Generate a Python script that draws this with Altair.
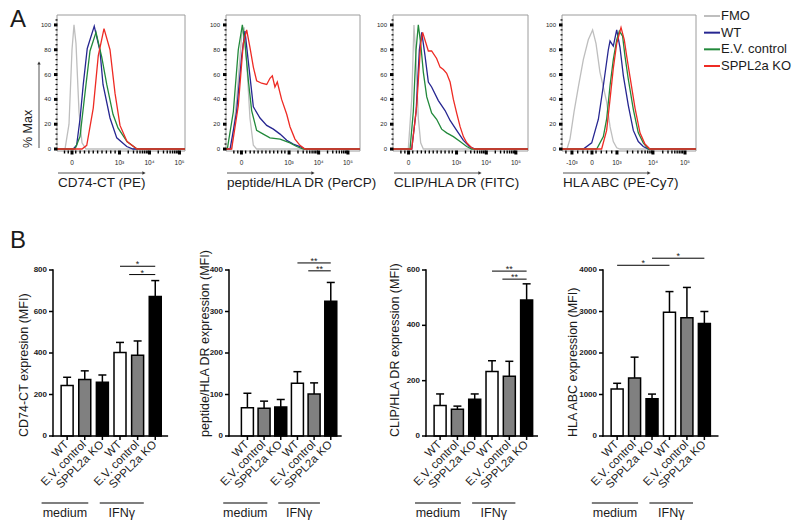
import altair as alt
import pandas as pd

FONT = "Liberation Sans"
INK = "#1b1b1b"

# ---------------- Panel A: flow cytometry histograms ----------------
SERIES = ["FMO", "WT", "E.V. control", "SPPL2a KO"]
SERIES_COLORS = ["#bebebe", "#262691", "#22893b", "#ee2b24"]

# x = display channel (0-1024), y = % of max
H1_FMO_X = [0, 64, 96, 120, 136, 152, 176, 200, 232, 1024]
H1_FMO_Y = [0, 0, 20, 80, 100, 85, 30, 5, 0, 0]
H1_WT_X = [0, 130, 157, 184, 210, 242, 298, 344, 368, 424, 478, 558, 608, 1024]
H1_WT_Y = [0, 0, 3, 24, 52, 81, 99, 79, 52, 25, 9, 2, 0, 0]
H1_EV_X = [0, 144, 184, 232, 264, 312, 358, 398, 448, 488, 560, 640, 1024]
H1_EV_Y = [0, 0, 10, 52, 79, 94, 74, 52, 28, 17, 6, 0, 0]
H1_KO_X = [0, 200, 238, 290, 330, 376, 424, 464, 504, 560, 640, 1024]
H1_KO_Y = [0, 0, 3, 33, 75, 97, 80, 45, 19, 6, 0, 0]

H2_FMO_X = [0, 43, 82, 120, 138, 158, 183, 209, 234, 1024]
H2_FMO_Y = [0, 0, 40, 92, 98, 70, 25, 3, 0, 0]
H2_WT_X = [0, 31, 81, 120, 145, 171, 209, 260, 311, 362, 413, 464, 514, 565, 604, 1024]
H2_WT_Y = [0, 0, 30, 75, 95, 70, 34, 25, 19, 16, 12, 7, 4, 2, 0, 0]
H2_EV_X = [0, 10, 56, 94, 125, 145, 171, 196, 234, 285, 336, 413, 489, 540, 591, 1024]
H2_EV_Y = [0, 0, 30, 80, 100, 85, 55, 31, 15, 12, 9, 8, 5, 2, 0, 0]
H2_KO_X = [0, 43, 94, 132, 158, 183, 209, 234, 272, 311, 336, 354, 374, 392, 425, 464, 489, 527, 565, 604, 1024]
H2_KO_Y = [0, 0, 35, 85, 96, 82, 66, 55, 53, 52, 57, 59, 50, 54, 40, 28, 18, 8, 3, 0, 0]

H3_FMO_X = [0, 116, 142, 159, 175, 192, 210, 230, 1024]
H3_FMO_Y = [0, 0, 40, 100, 70, 25, 5, 0, 0]
H3_WT_X = [0, 142, 175, 200, 218, 243, 268, 293, 344, 395, 433, 483, 534, 579, 622, 1024]
H3_WT_Y = [0, 0, 30, 80, 94, 75, 54, 50, 39, 31, 23, 15, 7, 2, 0, 0]
H3_EV_X = [0, 129, 154, 175, 192, 210, 230, 256, 293, 331, 369, 407, 458, 509, 559, 597, 1024]
H3_EV_Y = [0, 0, 30, 80, 100, 85, 62, 42, 29, 24, 16, 13, 10, 6, 2, 0, 0]
H3_KO_X = [0, 142, 180, 210, 225, 268, 293, 331, 357, 382, 407, 433, 458, 483, 509, 534, 559, 597, 622, 1024]
H3_KO_Y = [0, 0, 35, 85, 94, 79, 79, 73, 66, 64, 61, 54, 40, 29, 18, 10, 5, 1, 0, 0]

H4_FMO_X = [0, 38, 61, 92, 125, 163, 201, 234, 260, 290, 316, 341, 367, 392, 418, 443, 1024]
H4_FMO_Y = [0, 0, 8, 30, 50, 72, 88, 96, 85, 62, 50, 38, 18, 6, 1, 0, 0]
H4_WT_X = [0, 163, 227, 278, 316, 354, 367, 392, 418, 443, 469, 507, 545, 583, 621, 660, 1024]
H4_WT_Y = [0, 0, 5, 24, 51, 80, 87, 83, 96, 82, 59, 35, 15, 6, 2, 0, 0]
H4_EV_X = [0, 265, 316, 341, 367, 392, 418, 438, 463, 481, 507, 545, 583, 621, 660, 1024]
H4_EV_Y = [0, 0, 10, 24, 51, 72, 88, 95, 91, 75, 56, 32, 13, 5, 0, 0]
H4_KO_X = [0, 303, 341, 367, 392, 418, 451, 476, 494, 520, 558, 596, 634, 672, 1024]
H4_KO_Y = [0, 0, 15, 40, 65, 85, 98, 88, 75, 58, 33, 13, 4, 0, 0]

H_TITLES = ["CD74-CT (PE)", "peptide/HLA DR (PerCP)", "CLIP/HLA DR (FITC)", "HLA ABC (PE-Cy7)"]

# axis tick positions / labels (display channel)
H1_MAJOR = [120, 500, 740, 980]
H1_MINOR = [60, 90, 150, 185, 220, 255, 290, 325, 360, 395, 430, 465,
            570, 612, 641, 664, 683, 699, 714, 727, 810, 852, 882, 905, 924, 940, 954, 967]
H23_MAJOR = [118, 482, 708, 932]
H23_MINOR = [60, 90, 150, 185, 215, 245, 275, 305, 335, 365, 395, 425, 450,
             550, 590, 618, 640, 658, 673, 686, 698, 776, 816, 844, 866, 884, 899, 912, 923]
H_MAJOR_LABELS = ["0", "10³", "10⁴", "10⁵"]
H4_MAJOR = [76, 229, 420, 695, 940]
H4_MAJOR_LABELS = ["-10³", "0", "10³", "10⁴", "10⁵"]
H4_MINOR = [30, 120, 160, 195, 260, 300, 340, 380, 500, 540, 580, 610, 635, 655, 672, 685,
            770, 810, 840, 862, 880, 896, 910, 922]
PCT_MAJOR = [0, 20, 40, 60, 80, 100]
PCT_MINOR = [4, 8, 12, 16, 24, 28, 32, 36, 44, 48, 52, 56, 64, 68, 72, 76, 84, 88, 92, 96, 104]
LEGEND_ROW = [0, 1, 2, 3]

# ---------------- Panel B: MFI bar charts ----------------
CELLS = ["WT", "E.V. control", "SPPL2a KO", "WT", "E.V. control", "SPPL2a KO"]
CELL_TYPES = ["WT", "E.V. control", "SPPL2a KO"]
CELL_FILLS = ["white", "#808080", "black"]
GROUPS = ["medium", "IFNγ"]
GROUP_START = [-1.45, 1.85]
GROUP_END = [1.2, 4.35]

B_TITLES = ["CD74-CT expresion (MFI)", "peptide/HLA DR expression (MFI)",
            "CLIP/HLA DR expression (MFI)", "HLA ABC expression (MFI)"]
C1_TICKS = [0, 200, 400, 600, 800]
C2_TICKS = [0, 100, 200, 300, 400]
C3_TICKS = [0, 200, 400, 600]
C4_TICKS = [0, 1000, 2000, 3000, 4000]

C1_MEAN = [243, 272, 259, 402, 389, 672]
C1_ERR = [40, 42, 35, 49, 69, 77]
C2_MEAN = [68, 67, 70, 127, 101, 325]
C2_ERR = [35, 17, 18, 28, 27, 45]
C3_MEAN = [110, 97, 133, 233, 216, 492]
C3_ERR = [42, 11, 19, 39, 54, 58]
C4_MEAN = [1130, 1400, 900, 2980, 2850, 2710]
C4_ERR = [140, 500, 110, 500, 730, 290]

C1_SIG_FROM, C1_SIG_TO, C1_SIG_Y, C1_SIG_TXT = [3, 3.52], [5, 5], [818, 778], ["*", "*"]
C2_SIG_FROM, C2_SIG_TO, C2_SIG_Y, C2_SIG_TXT = [3, 3.65], [5, 5], [417, 398], ["**", "**"]
C3_SIG_FROM, C3_SIG_TO, C3_SIG_Y, C3_SIG_TXT = [3, 3.6], [5, 5], [596, 567], ["**", "**"]
C4_SIG_FROM, C4_SIG_TO, C4_SIG_Y, C4_SIG_TXT = [0, 2], [3, 5], [4114, 4284], ["*", "*"]

# ---------------- layout (page pixels; the view starts at the 8px page margin) ----------------
VIEW_W, VIEW_H, PAGE = 784, 512, 8
H_LEFT = [57, 226, 393, 562]
H_RIGHT = [185, 360, 528, 696]
H_TOP, H_BOTTOM = 15, 151
B_AXIS = [53, 229, 426, 603]
B_TOP, B_BOTTOM = 270, 436
B_LAYOUT = [(19.3, 4, 2.6), (18.3, 8.7, 0.5), (19.0, 4, 1), (19.1, 4, 4)]
B_TITLE_DIST = [29, 24, 31, 30]
BAR_W = 12

ONE = pd.DataFrame({"k": [0]})
COLOR_SCALE = alt.Scale(domain=SERIES, range=SERIES_COLORS)


def rule(df, **kw):
    kw.setdefault("color", "black")
    return alt.Chart(df).mark_rule(**kw)


def text(df, **kw):
    kw.setdefault("color", INK)
    return alt.Chart(df).mark_text(**kw)


def histogram(i, curves, majors, labels, minors):
    first = i == 0
    x0, x1 = H_LEFT[i] - PAGE, H_RIGHT[i] - PAGE
    yb, yt = H_BOTTOM - PAGE, H_TOP - PAGE
    xs = alt.Scale(domain=[0, 1024], range=[x0, x1], nice=False, zero=False)
    ys = alt.Scale(domain=[-1.6, 108], range=[yb, yt], nice=False, zero=False)
    X = lambda f: alt.X(f, scale=xs, axis=None)
    Y = lambda f: alt.Y(f, scale=ys, axis=None)
    rows = []
    for name, (xv, yv) in zip(SERIES, curves):
        for x, y in zip(xv, yv):
            rows.append({"series": name, "ch": x, "pct": y})
    df = pd.DataFrame(rows)
    frame_df = pd.DataFrame({"a": [0], "b": [1024], "c": [-1.6], "d": [108]})
    frame = alt.Chart(frame_df).mark_rect(fillOpacity=0, stroke="#9c9c9c", strokeWidth=1).encode(
        x=X("a:Q"), x2="b:Q", y=Y("c:Q"), y2="d:Q")
    lines = alt.Chart(df).mark_line(strokeWidth=1.3).encode(
        x=X("ch:Q"), y=Y("pct:Q"),
        color=alt.Color("series:N", scale=COLOR_SCALE, sort=SERIES, legend=None))
    # axes drawn through the panel scales
    ymaj = pd.DataFrame({"v": PCT_MAJOR, "lab": [str(v) for v in PCT_MAJOR]})
    ymin = pd.DataFrame({"v": PCT_MINOR})
    xmaj = pd.DataFrame({"v": majors, "lab": labels})
    xmin = pd.DataFrame({"v": minors})
    y_minor = rule(ymin, strokeWidth=1.2).encode(x=alt.value(x0 - 1.5), x2=alt.value(x0 + 0.5), y=Y("v:Q"))
    y_major = rule(ymaj, strokeWidth=3).encode(x=alt.value(x0 - 3), x2=alt.value(x0 + 0.5), y=Y("v:Q"))
    y_lab = text(ymaj, align="right", baseline="middle", fontSize=6).encode(
        x=alt.value(x0 - 6), y=Y("v:Q"), text="lab:N")
    x_minor = rule(xmin, strokeWidth=1.4).encode(x=X("v:Q"), y=alt.value(yb - 0.5), y2=alt.value(yb + 2.5))
    x_major = rule(xmaj, strokeWidth=3).encode(x=X("v:Q"), y=alt.value(yb - 0.5), y2=alt.value(yb + 3.5))
    x_lab = text(xmaj, align="center", baseline="middle", fontSize=6.5).encode(
        x=X("v:Q"), y=alt.value(yb + 12), text="lab:N")
    x_title = text(ONE, text=H_TITLES[i], align="left", baseline="middle", fontSize=13.5).encode(
        x=alt.value(x0 + 1), y=alt.value(yb + 32))
    ay = yb + 22
    arrow = rule(ONE, strokeWidth=1, color="#555").encode(
        x=alt.value(x0 + 1), x2=alt.value(x0 + 86), y=alt.value(ay))
    head = alt.Chart(ONE).mark_point(shape="triangle-right", filled=True, size=14,
                                     color="#333", opacity=1).encode(
        x=alt.value(x0 + 87), y=alt.value(ay))
    layers = [frame, lines, y_minor, y_major, y_lab, x_minor, x_major, x_lab, x_title, arrow, head]
    if first:
        vx = x0 - 18
        varrow = rule(ONE, strokeWidth=1, color="#555").encode(
            x=alt.value(vx), y=alt.value(yb - 3), y2=alt.value(yt + 49))
        vhead = alt.Chart(ONE).mark_point(shape="triangle-up", filled=True, size=12,
                                          color="#333", opacity=1).encode(
            x=alt.value(vx), y=alt.value(yt + 48))
        y_title = text(ONE, text="% Max", angle=270, align="left", baseline="middle",
                       fontSize=12.5).encode(x=alt.value(x0 - 29), y=alt.value(yb - 3))
        letter = text(ONE, text="A", fontSize=24, baseline="middle", align="left").encode(
            x=alt.value(2), y=alt.value(12))
        layers += [varrow, vhead, y_title, letter]
    return alt.layer(*layers)


def legend_panel():
    df = pd.DataFrame({"series": SERIES, "row": LEGEND_ROW})
    y = alt.Y("row:Q", scale=alt.Scale(domain=[0, 3], range=[16 - PAGE, 66 - PAGE],
                                       nice=False, zero=False), axis=None)
    color = alt.Color("series:N", scale=COLOR_SCALE, sort=SERIES, legend=None)
    sw = alt.Chart(df).mark_rule(strokeWidth=2).encode(
        x=alt.value(704 - PAGE), x2=alt.value(720 - PAGE), y=y, color=color)
    tx = text(df, align="left", baseline="middle", fontSize=13).encode(
        x=alt.value(721 - PAGE), y=y, text="series:N")
    return alt.layer(sw, tx)


def barchart(i, means, errs, ticks, sfrom, sto, sy, stxt):
    first = i == 0
    ymax = ticks[-1]
    step, lgap, rgap = B_LAYOUT[i]
    lo = -(lgap + BAR_W / 2) / step
    hi = len(CELLS) - 1 + (BAR_W / 2 + rgap) / step
    x0 = B_AXIS[i] - PAGE
    x1 = x0 + step * (hi - lo)
    yb, yt = B_BOTTOM - PAGE, B_TOP - PAGE
    df = pd.DataFrame({"idx": list(range(len(CELLS))), "cell": CELLS, "mean": means,
                       "top": [m + e for m, e in zip(means, errs)]})
    sig = pd.DataFrame({"frm": sfrom, "to": sto, "y": sy, "txt": stxt,
                        "mid": [(a + b) / 2 for a, b in zip(sfrom, sto)]})
    grp = pd.DataFrame({"name": GROUPS, "start": GROUP_START, "end": GROUP_END,
                        "mid": [(a + b) / 2 for a, b in zip(GROUP_START, GROUP_END)]})
    tk = pd.DataFrame({"v": ticks, "lab": [str(t) for t in ticks]})
    xs = alt.Scale(domain=[lo, hi], range=[x0, x1], nice=False, zero=False)
    ys = alt.Scale(domain=[0, ymax], range=[yb, yt], nice=False, zero=False)
    X = lambda f: alt.X(f, scale=xs, axis=None)
    Y = lambda f: alt.Y(f, scale=ys, axis=None)
    bars = alt.Chart(df).mark_bar(width=BAR_W, stroke="black", strokeWidth=1.5,
                                  orient="vertical").encode(
        x=X("idx:Q"), y=alt.Y("mean:Q", scale=ys, axis=None, stack=None), y2=alt.datum(0),
        fill=alt.Fill("cell:N", scale=alt.Scale(domain=CELL_TYPES, range=CELL_FILLS), legend=None))
    err = rule(df, strokeWidth=1.5).encode(x=X("idx:Q"), y=Y("mean:Q"), y2="top:Q")
    cap = alt.Chart(df).mark_tick(orient="horizontal", size=8, thickness=1.5,
                                  color="black", opacity=1).encode(x=X("idx:Q"), y=Y("top:Q"))
    sline = rule(sig, strokeWidth=1).encode(x=X("frm:Q"), x2="to:Q", y=Y("y:Q"))
    stext = text(sig, fontSize=9, baseline="bottom", dy=3).encode(
        x=X("mid:Q"), y=Y("y:Q"), text="txt:N")
    gline = rule(grp, strokeWidth=1.2).encode(x=X("start:Q"), x2="end:Q", y=alt.value(yb + 67))
    gtext = text(grp, fontSize=12.5, baseline="middle").encode(
        x=X("mid:Q"), y=alt.value(yb + 77), text="name:N")
    # axes drawn through the panel scales
    y_dom = rule(ONE, strokeWidth=1.5).encode(x=alt.value(x0), y=alt.value(yb + 0.75), y2=alt.value(yt - 0.75))
    y_tick = rule(tk, strokeWidth=1.5).encode(x=alt.value(x0 - 4), x2=alt.value(x0), y=Y("v:Q"))
    y_lab = text(tk, align="right", baseline="middle", fontSize=8, fontWeight="bold").encode(
        x=alt.value(x0 - 6), y=Y("v:Q"), text="lab:N")
    y_title = text(ONE, text=B_TITLES[i], angle=270, align="left", baseline="middle",
                   fontSize=12.5).encode(x=alt.value(x0 - B_TITLE_DIST[i]), y=alt.value(yb + 1))
    x_dom = rule(ONE, strokeWidth=1.5).encode(x=alt.value(x0 - 0.75), x2=alt.value(x1), y=alt.value(yb))
    x_tick = rule(df, strokeWidth=1.5).encode(x=X("idx:Q"), y=alt.value(yb), y2=alt.value(yb + 4))
    x_lab = text(df, angle=315, align="right", baseline="middle", fontSize=11.5).encode(
        x=X("idx:Q"), y=alt.value(yb + 7), text="cell:N")
    layers = [bars, err, cap, sline, stext, gline, gtext,
              y_dom, y_tick, y_lab, y_title, x_dom, x_tick, x_lab]
    if first:
        layers.append(text(ONE, text="B", fontSize=24, baseline="middle", align="left").encode(
            x=alt.value(2), y=alt.value(241 - PAGE)))
    return alt.layer(*layers)


h1 = histogram(0, [(H1_FMO_X, H1_FMO_Y), (H1_WT_X, H1_WT_Y), (H1_EV_X, H1_EV_Y), (H1_KO_X, H1_KO_Y)],
               H1_MAJOR, H_MAJOR_LABELS, H1_MINOR)
h2 = histogram(1, [(H2_FMO_X, H2_FMO_Y), (H2_WT_X, H2_WT_Y), (H2_EV_X, H2_EV_Y), (H2_KO_X, H2_KO_Y)],
               H23_MAJOR, H_MAJOR_LABELS, H23_MINOR)
h3 = histogram(2, [(H3_FMO_X, H3_FMO_Y), (H3_WT_X, H3_WT_Y), (H3_EV_X, H3_EV_Y), (H3_KO_X, H3_KO_Y)],
               H23_MAJOR, H_MAJOR_LABELS, H23_MINOR)
h4 = histogram(3, [(H4_FMO_X, H4_FMO_Y), (H4_WT_X, H4_WT_Y), (H4_EV_X, H4_EV_Y), (H4_KO_X, H4_KO_Y)],
               H4_MAJOR, H4_MAJOR_LABELS, H4_MINOR)
leg = legend_panel()

c1 = barchart(0, C1_MEAN, C1_ERR, C1_TICKS, C1_SIG_FROM, C1_SIG_TO, C1_SIG_Y, C1_SIG_TXT)
c2 = barchart(1, C2_MEAN, C2_ERR, C2_TICKS, C2_SIG_FROM, C2_SIG_TO, C2_SIG_Y, C2_SIG_TXT)
c3 = barchart(2, C3_MEAN, C3_ERR, C3_TICKS, C3_SIG_FROM, C3_SIG_TO, C3_SIG_Y, C3_SIG_TXT)
c4 = barchart(3, C4_MEAN, C4_ERR, C4_TICKS, C4_SIG_FROM, C4_SIG_TO, C4_SIG_Y, C4_SIG_TXT)

chart = alt.layer(h1, h2, h3, h4, leg, c1, c2, c3, c4).resolve_scale(
    x="independent", y="independent"
).properties(
    width=VIEW_W, height=VIEW_H, padding=0, autosize=alt.AutoSizeParams(type="none")
).configure(font=FONT).configure_view(stroke=None)

chart.save("out.html", embed_options={"renderer": "svg", "actions": False})
